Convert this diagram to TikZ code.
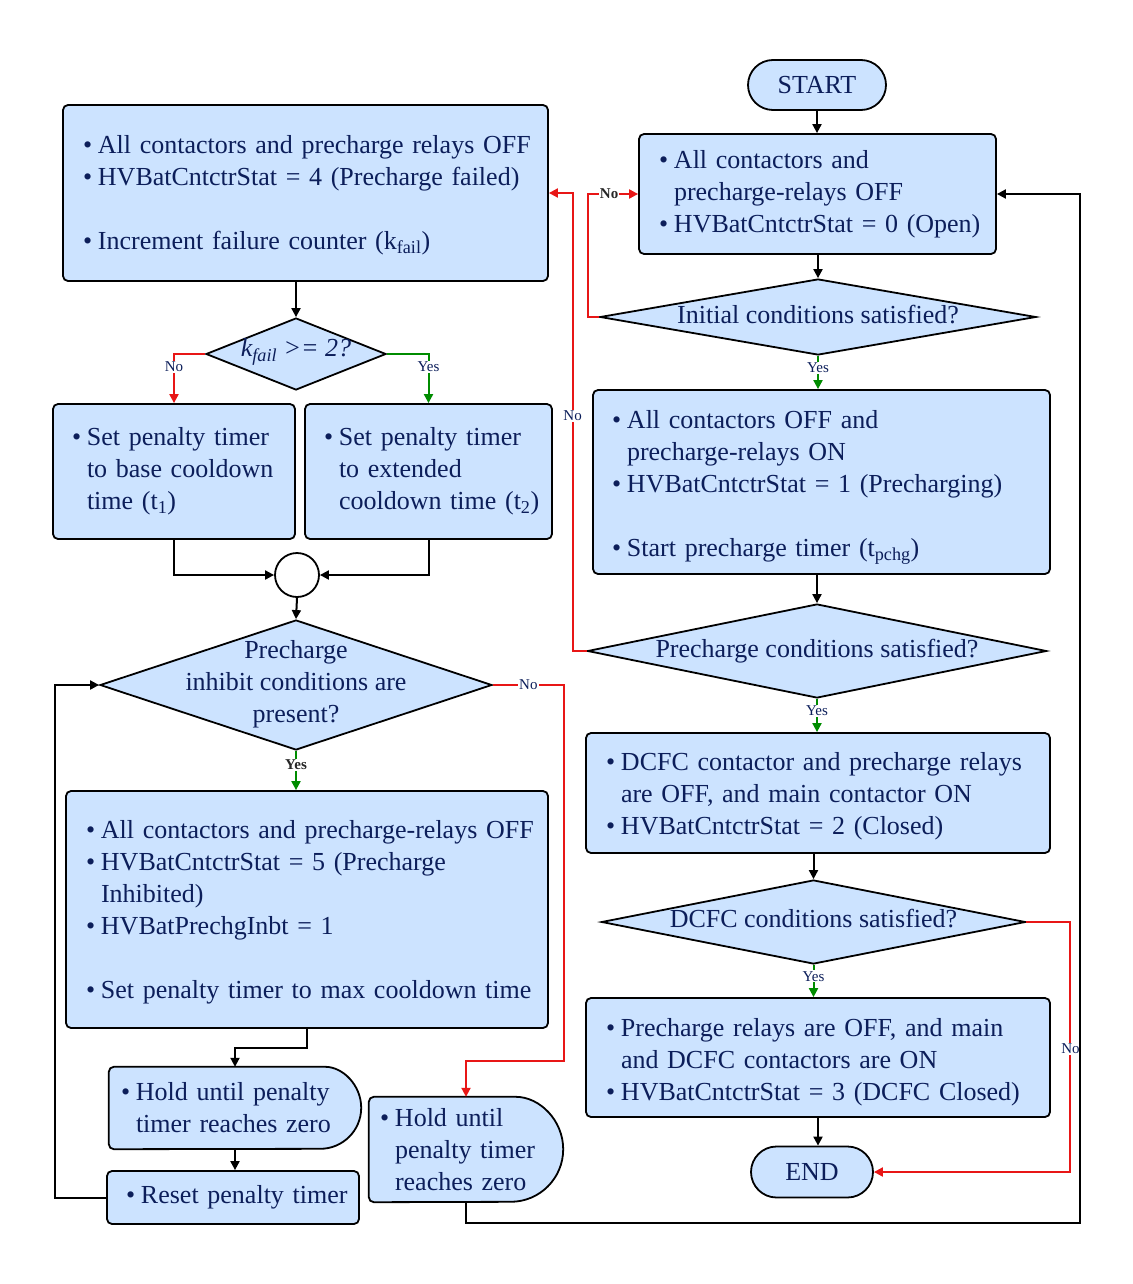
\documentclass[tikz,border=0pt]{standalone}
\usepackage{fontspec}
\setmainfont{Liberation Serif}
\usetikzlibrary{arrows.meta,shapes.geometric,shapes.misc,backgrounds,calc}
\definecolor{boxfill}{RGB}{204,227,255}
\definecolor{navy}{RGB}{12,30,90}
\definecolor{nored}{RGB}{232,22,22}
\definecolor{yesgreen}{RGB}{0,140,0}
% bullet line and continuation line of a list inside a box
\newcommand\itm[1]{\mbox{\makebox[15pt][l]{\textbullet}#1}}
\newcommand\cnt[1]{\mbox{\hspace*{15pt}#1}}
% taller first line: pushes a text block down inside its box
\newcommand\dn[1]{\rule{0pt}{#1}}
\begin{document}
\begin{tikzpicture}[x=1pt,y=-1pt,
  every node/.style={font=\fontsize{26}{32}\selectfont, text=navy},
  box/.style={draw=black, fill=boxfill, line width=1.8pt, rounded corners=5pt,
    align=left, inner ysep=0pt},
  holdtext/.style={align=left, inner ysep=0pt},
  hold/.style={draw=black, fill=boxfill, line width=1.8pt},
  dia/.style={diamond, draw=black, fill=boxfill, line width=1.8pt, inner sep=0pt},
  dtext/.style={align=center, inner sep=0pt},
  term/.style={rounded rectangle, draw=black, fill=boxfill, line width=1.8pt, inner sep=0pt},
  conn/.style={line width=2pt, -{Triangle[length=9pt,width=9pt]}},
  no/.style={conn, draw=nored},
  yes/.style={conn, draw=yesgreen},
  lbl/.style={font=\fontsize{15}{15}\selectfont, fill=white, inner sep=1pt, text=navy},
  lblb/.style={lbl, font=\fontsize{15}{15}\selectfont\bfseries, text=black!85},
]
\begin{scope}[on background layer]
  \fill[white] (0,0) rectangle (1132,1284);
\end{scope}
\useasboundingbox (0,0) rectangle (1132,1284);

% ---------------- right column: main sequence ----------------
\node[term, minimum width=138pt, minimum height=50pt] (start) at (817,85) {START};

\node[box, minimum width=357pt, minimum height=120pt, text width=317pt, inner xsep=20pt]
  (s0) at (817.5,194)
  {\itm{All contactors and}\\\cnt{precharge-relays OFF}\\\itm{HVBatCntctrStat = 0 (Open)}};

\node[dia, minimum width=436pt, minimum height=76pt] (d1) at (818,317) {};
\node[dtext] (d1t) at ([yshift=2pt]d1.center) {Initial conditions satisfied?};

\node[box, minimum width=457pt, minimum height=184pt, text width=419pt, inner xsep=19pt]
  (s1) at (821.5,482)
  {\itm{\dn{29pt}All contactors OFF and}\\\cnt{precharge-relays ON}\\\itm{HVBatCntctrStat = 1 (Precharging)}\\[32pt]\itm{Start precharge timer (t\textsubscript{pchg})}};

\node[dia, minimum width=459pt, minimum height=94pt] (d2) at (817,651) {};
\node[dtext] (d2t) at (d2.center) {Precharge conditions satisfied?};

\node[box, minimum width=464pt, minimum height=120pt, text width=424pt, inner xsep=20pt]
  (s2) at (818,793)
  {\itm{\dn{25pt}DCFC contactor and precharge relays}\\\cnt{are OFF, and main contactor ON}\\\itm{HVBatCntctrStat = 2 (Closed)}};

\node[dia, minimum width=424pt, minimum height=84pt] (d3) at (813.5,922) {};
\node[dtext] (d3t) at ([yshift=3pt]d3.center) {DCFC conditions satisfied?};

\node[box, minimum width=464pt, minimum height=119pt, text width=424pt, inner xsep=20pt]
  (s3) at (818,1057.5)
  {\itm{\dn{27pt}Precharge relays are OFF, and main}\\\cnt{and DCFC contactors are ON}\\\itm{HVBatCntctrStat = 3 (DCFC Closed)}};

\node[term, minimum width=122pt, minimum height=51pt] (end) at (812,1172) {END};

% ---------------- left column: failure / inhibit handling ----------------
\node[box, minimum width=485pt, minimum height=176pt, text width=445pt, inner xsep=20pt]
  (sF) at (305.5,193)
  {\itm{\dn{23pt}All contactors and precharge relays OFF}\\\itm{HVBatCntctrStat = 4 (Precharge failed)}\\[32pt]\itm{Increment failure counter (k\textsubscript{fail})}};

\node[dia, minimum width=180pt, minimum height=72pt] (kf) at (296,354) {};
\node[dtext] (kft) at ([yshift=2pt]kf.center) {\itshape k\textsubscript{fail} >= 2?};

\node[box, minimum width=242pt, minimum height=135pt, text width=204pt, inner xsep=19pt]
  (t1) at (174,471.5)
  {\itm{Set penalty timer}\\\cnt{to base cooldown}\\\cnt{time (t\textsubscript{1})}};
\node[box, minimum width=247pt, minimum height=135pt, text width=209pt, inner xsep=19pt]
  (t2) at (428.5,471.5)
  {\itm{Set penalty timer}\\\cnt{to extended}\\\cnt{cooldown time (t\textsubscript{2})}};

\node[circle, draw=black, fill=white, line width=1.8pt, minimum size=44pt, inner sep=0pt] (jn) at (297,575) {};

\node[dia, minimum width=392pt, minimum height=130pt] (dP) at (296,685) {};
\node[dtext] (dPt) at ([yshift=1pt]dP.center) {Precharge\\inhibit conditions are\\present?};

\node[box, minimum width=482pt, minimum height=237pt, text width=442pt, inner xsep=20pt]
  (inh) at (307,909.5)
  {\itm{\dn{23pt}All contactors and precharge-relays OFF}\\\itm{HVBatCntctrStat = 5 (Precharge}\\\cnt{Inhibited)}\\\itm{HVBatPrechgInbt = 1}\\[32pt]\itm{Set penalty timer to max cooldown time}};

\node[holdtext, minimum width=252pt, minimum height=82pt, text width=228pt, inner xsep=12pt]
  (h1) at (235,1108)
  {\itm{Hold until penalty}\\\cnt{timer reaches zero}};
\node[box, minimum width=252pt, minimum height=53pt, text width=214pt, inner xsep=19pt]
  (rst) at (233,1197.5)
  {\itm{Reset penalty timer}};
\node[holdtext, minimum width=194pt, minimum height=105pt, text width=172pt, inner xsep=11pt]
  (h2) at (466,1149.5)
  {\itm{Hold until}\\\cnt{penalty timer}\\\cnt{reaches zero}};

% delay-shaped outlines behind the two hold nodes
\begin{scope}[on background layer]
  \path[hold] ([xshift=-41pt]h1.north east) arc[start angle=90, end angle=-90, radius=41pt]
    [rounded corners=5pt] -- (h1.south west) -- (h1.north west) -- cycle;
  \path[hold] ([xshift=-52.5pt]h2.north east) arc[start angle=90, end angle=-90, radius=52.5pt]
    [rounded corners=5pt] -- (h2.south west) -- (h2.north west) -- cycle;
\end{scope}

% ---------------- connectors: right column ----------------
\draw[conn] (start.south) -- (start.south |- s0.north);
\draw[conn] (s0.south -| d1.north) -- (d1.north);
\draw[yes] (d1.south) -- node[lbl, pos=0.35] {Yes} (d1.south |- s1.north);
\draw[no] (d1.west) -- ++(-11,0) |- node[lblb, pos=0.71] {No} (s0.west);
\draw[conn] (s1.south -| d2.north) -- (d2.north);
\draw[yes] (d2.south) -- node[lbl, pos=0.35] {Yes} (d2.south |- s2.north);
\draw[no] (d2.west) -- ++(-14,0) |- node[lbl, pos=0.257] {No} (sF.east);
\draw[conn] (s2.south -| d3.north) -- (d3.north);
\draw[yes] (d3.south) -- node[lbl, pos=0.35] {Yes} (d3.south |- s3.north);
\draw[conn] (s3.south) -- (s3.south |- end.north);
\draw[no] (d3.east) -- ++(44,0) |- node[lbl, pos=0.253] {No} (end.east);

% ---------------- connectors: left column ----------------
\draw[conn] (sF.south -| kf.north) -- (kf.north);
\draw[no] (kf.west) -| node[lbl, pos=0.63] {No} (t1.north);
\draw[yes] (kf.east) -| node[lbl, pos=0.63] {Yes} (t2.north);
\draw[conn] (t1.south) |- (jn.west);
\draw[conn] (t2.south) |- (jn.east);
\draw[conn] (jn.south) -- (dP.north);
\draw[yes] (dP.south) -- node[lblb, pos=0.35] {Yes} (dP.south |- inh.north);
\draw[conn] (inh.south) -- ++(0,19) -| (h1.north);
\draw[conn] (h1.south) -- (h1.south |- rst.north);
\draw[conn] (rst.west) -- ++(-51,0) |- (dP.west);
\draw[no] (dP.east) -- node[lbl] {No} ++(71,0) -- ++(0,376) -| (h2.north);
\coordinate (loop) at (1080,1223);
\draw[conn] (h2.south) |- (loop) |- (s0.east);
\end{tikzpicture}
\end{document}
